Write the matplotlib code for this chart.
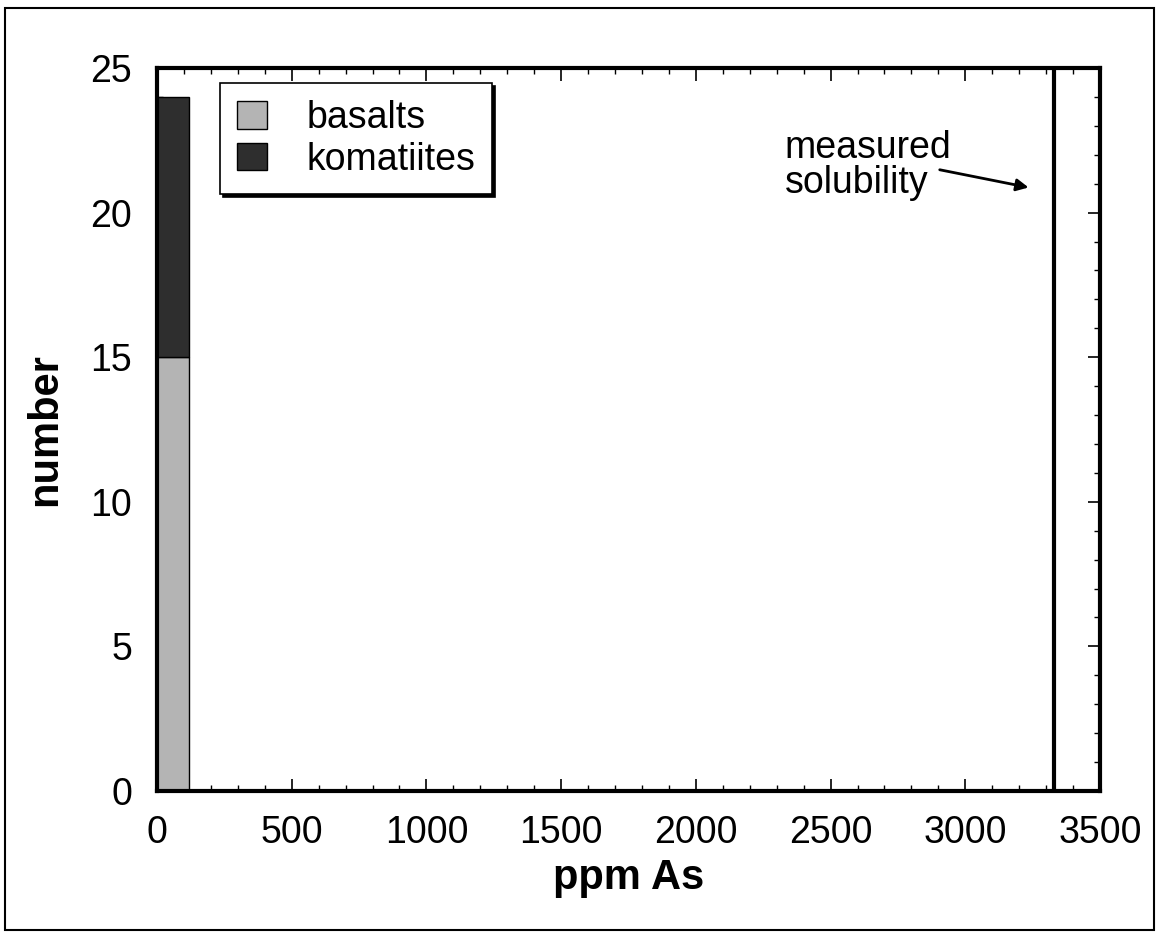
import matplotlib
matplotlib.use("Agg")
import matplotlib.pyplot as plt
from matplotlib.patches import Rectangle
from matplotlib.ticker import MultipleLocator

plt.rcParams['font.family'] = ['Liberation Sans', 'DejaVu Sans']

# data
bin_left = [0]
bin_width = 120
basalts = [15]
komatiites = [9]
solubility = 3330
xticks = [0, 500, 1000, 1500, 2000, 2500, 3000, 3500]
yticks = [0, 5, 10, 15, 20, 25]

fig = plt.figure(figsize=(11.59, 9.36), dpi=100)
ax = fig.add_axes([157/1159, 1-791/936, (1100-157)/1159, (791-68)/936])

ax.bar(bin_left, basalts, width=bin_width, align='edge', color='#b4b4b4',
       edgecolor='black', linewidth=1, label='basalts', zorder=2)
ax.bar(bin_left, komatiites, bottom=basalts, width=bin_width, align='edge',
       color='#2e2e2e', edgecolor='black', linewidth=1, label='komatiites', zorder=2)

ax.axvline(solubility, color='black', linewidth=3, zorder=3)

ax.set_xlim(0, 3500)
ax.set_ylim(0, 25)
ax.set_xticks(xticks)
ax.set_yticks(yticks)
ax.xaxis.set_minor_locator(MultipleLocator(100))
ax.yaxis.set_minor_locator(MultipleLocator(1))
ax.tick_params(which='both', direction='in', top=True, right=True, labelsize=27)
ax.tick_params(axis='x', which='major', pad=17)
ax.tick_params(axis='y', which='major', pad=18)
ax.tick_params(which='major', length=9, width=1.2)
ax.tick_params(which='minor', length=4, width=1)
for s in ax.spines.values():
    s.set_linewidth(3)

ax.set_xlabel('ppm As', fontsize=30, fontweight='bold', labelpad=5)
ax.set_ylabel('number', fontsize=30, fontweight='bold', labelpad=18)

leg = ax.legend(loc='upper left', bbox_to_anchor=((220-157)/943, (791-83)/723),
                fontsize=27, frameon=True, fancybox=False,
                shadow={'color': 'black', 'alpha': 1},
                edgecolor='black', handlelength=0.8, handleheight=0.75,
                handletextpad=1.05, borderpad=0.45, labelspacing=0.15,
                borderaxespad=0)
leg.get_frame().set_linewidth(1.2)
leg.get_frame().set_alpha(1)

ax.text(2330, 22.85, 'measured\nsolubility', fontsize=27, va='top', ha='left',
        linespacing=0.95)
ax.annotate('', xy=(3245, 20.85), xytext=(2895, 21.5),
            arrowprops=dict(arrowstyle='-|>', color='black', lw=2, mutation_scale=18))

fig.patches.append(Rectangle((5/1159, 1-930/936), 1149/1159, 922/936,
                             transform=fig.transFigure,
                             fill=False, edgecolor='black', linewidth=1.5))

fig.savefig('out.png', dpi=100)
